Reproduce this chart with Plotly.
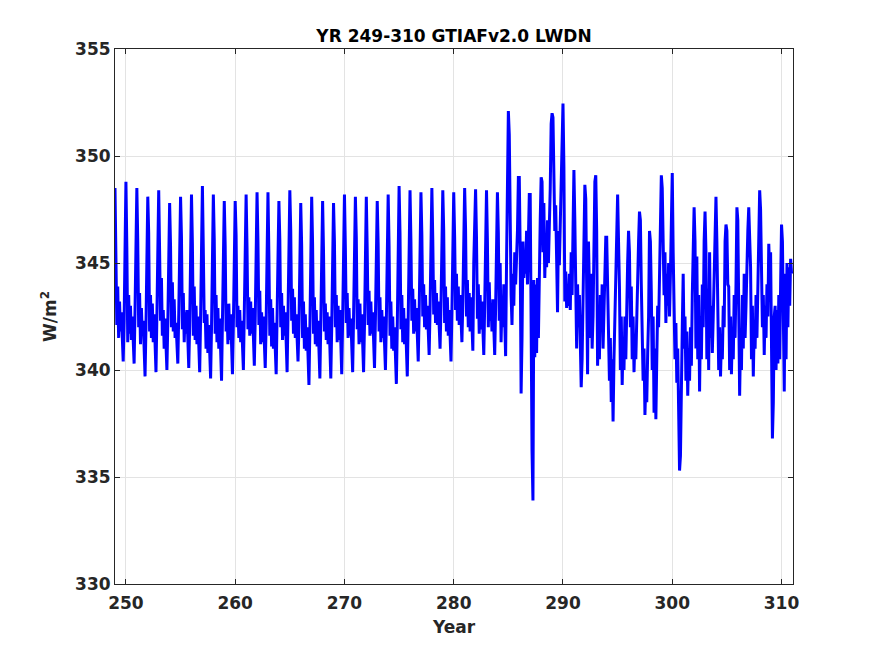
import numpy as np
import plotly.graph_objects as go

# Dados mensais (W/m^2), um ano por linha, de jan a dez
start_year = 249
lwdn = [
    # 249-258
    348.5, 346.2, 342.1, 343.9, 341.5, 343.2, 341.8, 342.7, 341.0, 340.4, 342.3, 347.0,
    348.8, 345.7, 341.3, 343.5, 341.7, 343.0, 341.4, 342.5, 340.8, 340.3, 342.8, 346.9,
    348.5, 346.0, 342.0, 343.6, 341.2, 342.9, 341.6, 342.3, 340.5, 339.7, 342.0, 346.5,
    348.1, 346.4, 341.8, 343.5, 341.5, 343.1, 341.3, 342.6, 340.6, 339.9, 342.5, 347.2,
    348.4, 345.5, 342.3, 344.3, 341.6, 342.8, 341.0, 342.4, 340.9, 340.0, 342.2, 346.4,
    347.8, 345.8, 342.0, 344.1, 341.8, 343.3, 341.5, 342.2, 340.7, 340.3, 342.6, 346.8,
    348.1, 346.2, 341.9, 343.6, 341.3, 342.7, 341.7, 342.8, 340.6, 340.1, 342.1, 347.1,
    348.2, 345.9, 341.6, 343.9, 341.4, 343.0, 341.2, 342.5, 340.4, 339.9, 342.4, 346.9,
    348.6, 345.6, 342.2, 342.8, 341.0, 342.6, 340.8, 342.1, 340.2, 339.6, 342.0, 346.6,
    348.2, 346.1, 341.7, 343.5, 341.3, 342.9, 341.0, 342.4, 340.1, 339.5, 342.3, 346.3,
    # 259-268
    347.9, 345.8, 341.8, 343.0, 341.2, 343.1, 341.4, 342.6, 340.5, 339.8, 342.1, 346.7,
    347.9, 346.3, 342.0, 343.0, 341.5, 342.8, 341.3, 342.3, 340.6, 340.0, 342.7, 347.0,
    348.2, 345.7, 341.9, 343.4, 341.6, 343.2, 341.7, 342.9, 340.8, 340.2, 342.4, 346.8,
    348.3, 346.0, 342.1, 343.7, 341.2, 342.7, 341.3, 342.5, 340.7, 340.1, 342.2, 347.1,
    348.3, 345.4, 341.6, 343.3, 341.1, 342.9, 341.0, 342.2, 340.4, 339.8, 342.5, 346.5,
    347.9, 346.1, 342.0, 343.6, 341.4, 343.0, 341.6, 342.7, 340.5, 339.9, 342.6, 347.3,
    348.4, 346.5, 342.3, 343.8, 341.7, 343.4, 341.5, 342.6, 340.9, 340.4, 342.0, 346.6,
    347.8, 345.8, 341.5, 343.2, 341.0, 342.6, 340.9, 342.0, 340.0, 339.3, 341.9, 346.9,
    348.1, 345.9, 341.7, 343.4, 341.2, 342.8, 341.1, 342.3, 340.3, 339.6, 342.2, 346.7,
    347.9, 345.5, 341.8, 343.1, 341.4, 342.7, 341.2, 342.5, 340.2, 339.6, 342.0, 346.5,
    # 269-278
    347.8, 346.0, 342.0, 343.5, 341.3, 343.0, 341.4, 342.8, 340.4, 339.8, 342.3, 347.1,
    348.2, 345.7, 342.2, 343.6, 341.5, 342.9, 341.6, 342.4, 340.5, 339.9, 342.5, 346.9,
    348.1, 346.2, 341.9, 343.3, 341.2, 343.1, 341.3, 342.6, 340.6, 339.9, 342.1, 347.0,
    348.1, 345.6, 342.1, 343.7, 341.6, 343.2, 341.7, 342.7, 340.8, 340.1, 342.4, 346.6,
    347.9, 345.9, 341.8, 343.4, 341.3, 342.8, 341.5, 342.5, 340.6, 340.0, 342.3, 346.8,
    348.2, 345.8, 341.6, 343.2, 341.0, 342.5, 340.9, 342.0, 340.0, 339.35, 342.0, 347.2,
    348.6, 346.4, 341.9, 343.5, 341.3, 342.9, 341.2, 342.4, 340.3, 339.7, 342.4, 347.0,
    348.4, 346.0, 342.3, 343.8, 341.7, 343.3, 341.8, 342.9, 341.0, 340.4, 342.6, 346.9,
    348.3, 346.3, 342.5, 344.0, 342.0, 343.5, 341.9, 343.0, 341.2, 340.7, 342.8, 347.3,
    348.5, 346.1, 342.6, 344.2, 342.2, 343.6, 342.1, 343.2, 341.5, 341.0, 343.0, 347.1,
    # 279-288
    348.4, 346.5, 342.2, 343.9, 341.8, 343.4, 341.6, 342.8, 341.0, 340.4, 342.7, 346.8,
    348.3, 346.2, 342.8, 344.5, 342.3, 343.9, 342.1, 343.5, 341.8, 341.3, 343.2, 347.2,
    348.5, 346.6, 342.5, 344.2, 342.0, 343.6, 341.8, 343.4, 341.5, 340.9, 345.0, 347.7,
    348.45, 346.2, 342.4, 344.0, 341.7, 343.5, 341.9, 343.2, 341.3, 340.7, 343.0, 347.5,
    348.4, 346.0, 342.0, 344.1, 342.3, 343.1, 341.8, 343.3, 341.2, 340.7, 342.9, 347.4,
    348.3, 346.4, 342.3, 345.0, 341.3, 343.2, 342.0, 344.0, 341.5, 340.65, 345.0, 350.0,
    352.1, 351.0, 345.0, 343.5, 342.1, 344.5, 343.0, 345.5, 344.0, 345.2, 346.5, 349.0,
    349.0, 345.5, 338.9, 341.5, 346.0, 344.3, 345.2, 344.5, 346.5, 344.0, 346.8, 348.2,
    348.2, 340.0, 336.2, 333.9, 344.2, 340.6, 344.0, 340.8, 344.3, 341.5, 345.0, 347.0,
    349.0, 348.8, 345.5, 347.8, 344.3, 346.2, 344.8, 347.0, 345.0, 346.5, 348.5, 351.5,
    # 289-298
    352.0, 351.8, 348.0, 346.5, 347.7, 345.0, 342.7, 346.5, 344.9, 346.8, 349.0, 351.0,
    352.45, 349.5, 343.2, 344.6, 342.9, 343.8, 343.0, 344.5, 342.8, 345.5, 343.5, 346.5,
    349.35, 347.0, 344.5, 341.0, 344.0, 342.0, 343.5, 341.5, 339.2, 340.5, 343.5, 347.0,
    348.65, 348.0, 343.5, 339.8, 346.0, 342.5, 341.5, 344.5, 341.0, 342.5, 345.5, 348.8,
    349.1, 346.5, 340.2, 342.5, 340.5, 343.5, 342.0, 344.0, 341.0, 342.5, 344.5, 346.2,
    346.2, 343.5, 342.1, 339.5, 341.5, 338.5, 340.5, 337.6, 340.5, 342.5, 345.0, 347.5,
    348.2, 346.0, 343.9, 340.0, 342.5, 339.3, 341.5, 340.0, 342.5, 340.5, 343.5, 345.0,
    346.5, 345.5, 342.0, 343.9, 340.5, 342.5, 339.9, 341.5, 340.5, 343.0, 344.5, 346.0,
    347.4, 347.0, 344.0, 341.3, 339.5, 341.0, 337.9, 339.5, 338.5, 340.8, 342.5, 346.5,
    346.0, 343.6, 340.0, 342.5, 338.0, 341.0, 337.7, 340.5, 343.0, 342.0, 345.0, 348.0,
    # 299-310
    349.1, 348.5, 346.1, 343.5, 345.5, 342.2, 344.5, 343.0, 345.0, 342.5, 344.5, 347.5,
    349.2, 345.5, 342.0, 340.5, 342.2, 339.4, 341.0, 337.4, 335.3, 336.0, 340.0, 342.0,
    344.5, 341.0, 342.5, 339.5, 341.8, 338.8, 341.0, 339.5, 342.0, 340.2, 343.5, 345.5,
    347.6, 346.0, 341.0, 345.3, 340.5, 343.5, 339.0, 342.5, 340.5, 344.0, 342.0, 346.0,
    347.4, 345.5, 340.5, 343.8, 340.0, 345.5, 341.5, 343.0, 340.8, 342.5, 345.0, 347.5,
    348.1, 346.0, 342.4, 340.0, 342.0, 339.7, 341.5, 340.5, 343.0, 342.0, 346.0, 346.8,
    346.5, 344.0, 343.9, 340.0, 342.5, 339.8, 342.0, 340.5, 343.5, 341.5, 344.0, 347.6,
    347.0, 343.0, 338.8, 341.5, 340.0, 343.5, 341.0, 344.5, 341.5, 343.0, 345.5, 346.5,
    347.6, 346.0, 344.8, 340.5, 343.0, 339.7, 342.0, 341.0, 343.5, 341.5, 344.0, 346.5,
    348.4, 347.5, 344.7, 342.0, 343.5, 340.7, 343.0, 341.5, 344.0, 342.5, 345.9, 344.5,
    345.5, 341.0, 336.8, 338.5, 342.5, 343.0, 340.0, 342.8, 340.3, 343.5, 340.5, 344.0,
    346.8, 346.0, 343.0, 339.0, 344.5, 340.5, 345.0, 342.0, 344.8, 343.0, 345.2, 344.5,
]

anos = start_year + np.arange(len(lwdn)) / 12.0

x_ticks = [250, 260, 270, 280, 290, 300, 310]
y_ticks = [330, 335, 340, 345, 350, 355]

fonte = dict(family="DejaVu Sans", size=17, color="#262626")

fig = go.Figure(go.Scatter(x=anos, y=lwdn, mode='lines',
                           line=dict(color='#0000ff', width=3)))

eixo = dict(showline=True, linecolor='#262626', linewidth=1, mirror='allticks',
            ticks='inside', ticklen=5, tickcolor='#262626',
            showgrid=True, gridcolor='#e3e3e3', gridwidth=1, zeroline=False,
            tickfont=dict(family="DejaVu Sans", size=17, color="#262626", weight='bold'))

# a pagina tem margem de 8px no body, por isso as margens ficam deslocadas
fig.update_layout(
    width=875, height=656,
    plot_bgcolor='white', paper_bgcolor='white',
    margin=dict(l=107, r=90, t=41, b=80),
    showlegend=False,
    title=dict(text='<b>YR 249-310 GTIAFv2.0 LWDN</b>', x=(107 + 785) / 2 / 875,
               xanchor='center', y=1 - 28 / 656, yanchor='middle',
               font=dict(family="DejaVu Sans", size=17, color='black')),
    xaxis=dict(eixo, range=[249, 311.05], tickvals=x_ticks, ticklabelstandoff=4,
               title=dict(text='<b>Year</b>', font=fonte, standoff=8)),
    yaxis=dict(eixo, range=[330, 355], tickvals=y_ticks,
               title=dict(text='<b>W/m<sup>2</sup></b>', font=fonte, standoff=14)),
)

fig.write_html("out.html")
